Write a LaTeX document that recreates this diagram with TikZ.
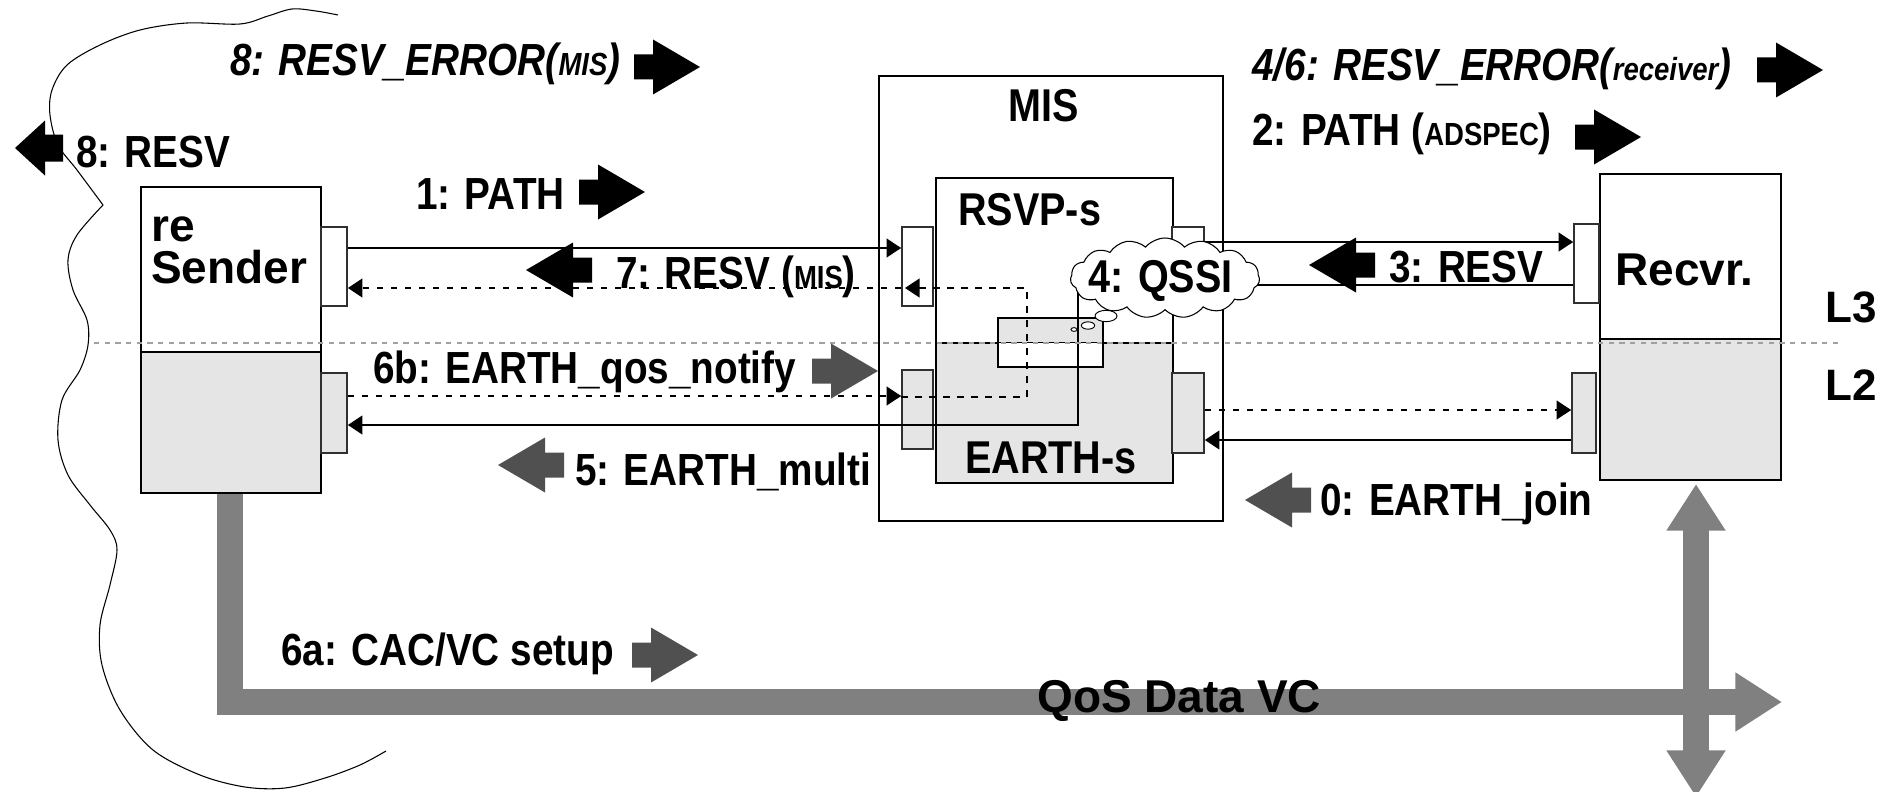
\documentclass[tikz,border=0pt]{standalone}
\usepackage{fontspec}
\setmainfont{Liberation Sans}
\newfontfamily\condfont[FakeStretch=0.86]{Liberation Sans}
\usetikzlibrary{arrows.meta,shapes.geometric,shapes.symbols}
\definecolor{lgrey}{HTML}{E5E5E5}
\definecolor{pipegrey}{HTML}{808080}
\definecolor{dgrey}{HTML}{505050}
\definecolor{portedge}{HTML}{303030}
\definecolor{layerline}{HTML}{A0A0A0}
\newcommand\sml[1]{{\fontsize{24}{28}\selectfont #1}}
\tikzset{
  box/.style={draw=black, line width=1.2pt, fill=white, inner sep=0pt},
  l2box/.style={box, fill=lgrey},
  port/.style={box, draw=portedge},
  l2port/.style={box, draw=portedge, fill=lgrey},
  conn/.style={line width=1.8pt},
  dotline/.style={line width=2pt, dash pattern=on 5pt off 5.5pt},
  layer/.style={draw=layerline, line width=0.8pt, dash pattern=on 4pt off 4pt},
  pipe/.style={draw=pipegrey, line width=20pt, line join=miter},
  lbl/.style={anchor=base west, inner sep=0pt, font=\condfont\bfseries\fontsize{33.75}{38}\selectfont},
  ilbl/.style={anchor=base west, inner sep=0pt, font=\condfont\bfseries\itshape\fontsize{33.75}{38}\selectfont},
  mlbl/.style={anchor=base west, inner sep=0pt, font=\condfont\bfseries\fontsize{34.5}{40}\selectfont},
  big/.style={anchor=base west, inner sep=0pt, font=\bfseries\fontsize{34.5}{40}\selectfont},
  layerlbl/.style={anchor=base west, inner sep=0pt, font=\bfseries\fontsize{33}{38}\selectfont},
  bubble/.style={ellipse, draw, fill=white, line width=0.7pt, inner sep=0pt},
  >={Triangle[length=11pt,width=14pt]},
  pics/blk/.style={code={
    \fill[#1] (-66,-12.5) -- (-47,-12.5) -- (-47,-27.5) -- (0,0) -- (-47,27.5)
      -- (-47,12.5) -- (-66,12.5) -- cycle;}},
  pics/blkshort/.style={code={
    \fill[#1] (-48,-13.5) -- (-30,-13.5) -- (-30,-27.5) -- (0,0) -- (-30,27.5)
      -- (-30,13.5) -- (-48,13.5) -- cycle;}},
}
\begin{document}
\begin{tikzpicture}[x=0.75pt,y=-0.75pt]
\useasboundingbox (0,0) rectangle (1892,792);

% sender-side domain outline
\draw[line width=0.8pt] plot[smooth, tension=0.55] coordinates {
  (338,15) (316,11) (292,9) (268,16) (240,24) (187,23) (140,30) (100,45)
  (67,65) (52,90) (50,115) (58,145) (77,170) (103,205)};
\draw[line width=0.8pt] plot[smooth, tension=0.55] coordinates {
  (103,205) (77,235) (68,260) (73,290) (87,320) (88,345) (80,370) (62,400)
  (58,440) (68,475) (90,505) (110,530) (117,550) (110,585) (100,625)
  (102,665) (120,710) (153,750) (200,775) (245,787) (285,788) (325,778)
  (360,765) (386,751)};

% boxes
\node[box, line width=1pt, minimum width=258pt, minimum height=333.75pt] (mis) at (1051,298.5) {};
\node[box, minimum width=177.75pt, minimum height=123.75pt] (rsvp) at (1054.5,260.5) {};
\node[l2box, minimum width=177.75pt, minimum height=105pt] (earth) at (1054.5,413) {};
\node[box, minimum width=78.75pt, minimum height=36.75pt,
  path picture={\fill[lgrey] (path picture bounding box.north west) rectangle (path picture bounding box.east);}]
  (qbox) at (1050.5,342.5) {};
\draw[line width=1.2pt] (qbox.west) -- (qbox.east);
\node[port, minimum width=23.25pt, minimum height=59.25pt] (mpl3) at (917.5,266.5) {};
\node[l2port, minimum width=23.25pt, minimum height=59.25pt] (mpl2) at (917.5,409.5) {};
\node[port, minimum width=24pt, minimum height=59.25pt] (mpr3) at (1188,266.5) {};
\node[l2port, minimum width=24pt, minimum height=60pt] (mpr2) at (1188,413) {};

\node[box, minimum width=135pt, minimum height=123.75pt] (sL3) at (231,269.5) {};
\node[l2box, minimum width=135pt, minimum height=105.75pt] (sL2) at (231,422.5) {};
\node[port, minimum width=19.5pt, minimum height=59.25pt] (sp3) at (334,266.5) {};
\node[l2port, minimum width=19.5pt, minimum height=60pt] (sp2) at (334,413) {};

\node[box, minimum width=135.75pt, minimum height=123.75pt] (rL3) at (1690.5,256.5) {};
\node[l2box, minimum width=135.75pt, minimum height=105.75pt] (rL2) at (1690.5,409.5) {};
\node[port, minimum width=18.75pt, minimum height=59.25pt] (rp3) at (1586.5,263.5) {};
\node[l2port, minimum width=18pt, minimum height=60pt] (rp2) at (1584,413) {};

% QoS data VC
\coordinate (vcbend) at (230,702);
\coordinate (vcend) at (1782,702);
\coordinate (vctop) at (1696,484);
\coordinate (vcbot) at (1696,797);
\draw[pipe, -{Triangle[length=35pt,width=42pt]}] (sL2.south -| vcbend) -- (vcbend) -- (vcend);
\draw[pipe, {Triangle[length=35pt,width=42pt]}-{Triangle[length=35pt,width=42pt]}] (vctop) -- (vcbot);

% signalling connectors
\coordinate (qin) at (1078,292);
\coordinate (djoin) at (1027,397);
\coordinate (m7tip) at (905,288);
\draw[conn,->] (sp3.east |- 0,248) -- (mpl3.west |- 0,248);
\draw[conn,->] (mpr3.east |- 0,242) -- (rp3.west |- 0,242);
\draw[conn] (rp3.west |- 0,285) -- (1200,285);
\draw[conn,->] (qin) |- (sp2.east |- 0,425);
\draw[dotline,->] (djoin) |- (m7tip);
\draw[dotline,->] (mpl3.west |- 0,288) -- (sp3.east |- 0,288);
\draw[dotline,->] (sp2.east |- 0,396) -- (mpl2.west |- 0,396);
\draw[dotline] (mpl2.west |- 0,397) -- (djoin);
\draw[dotline,->] (mpr2.east |- 0,410) -- (rp2.west |- 0,410);
\draw[conn,->] (rp2.west |- 0,440) -- (mpr2.east |- 0,440);

% layer boundary
\draw[layer] (94,343) -- (1842,343);

% QSSI thought cloud
\node[cloud, cloud puffs=15, cloud puff arc=100, cloud ignores aspect, draw, fill=white,
  line width=0.8pt, minimum width=142pt, minimum height=60pt, inner sep=0pt] (qssi) at (1165,278) {};
\node[mlbl] (tqssi) at (1088,292) {4: QSSI};
\node[bubble, minimum width=16.5pt, minimum height=8.5pt] (bub1) at (1106,316) {};
\node[bubble, minimum width=10pt, minimum height=5.5pt] (bub2) at (1088,325.5) {};
\node[bubble, minimum width=4.5pt, minimum height=2.8pt] (bub3) at (1074,329.5) {};

% message direction arrows
\pic at (700,67) {blk=black};
\pic[xscale=-1] at (15,148) {blkshort=black};
\pic at (645,192) {blk=black};
\pic at (1823,70) {blk=black};
\pic at (1641,137) {blk=black};
\pic[xscale=-1] at (526,270) {blk=black};
\pic[xscale=-1] at (1309,265) {blk=black};
\pic at (878,371) {blk=dgrey};
\pic[xscale=-1] at (498,465) {blk=dgrey};
\pic[xscale=-1] at (1245,500) {blk=dgrey};
\pic at (698,655) {blk=dgrey};

% labels
\node[ilbl] (t8err) at (230,75) {8: RESV\_ERROR(\sml{MIS})};
\node[lbl] (t8resv) at (76,167) {8: RESV};
\node[lbl] (tpath1) at (416,209) {1: PATH};
\node[ilbl] (t46err) at (1252,80) {4/6: RESV\_ERROR(\sml{receiver})};
\node[lbl] (tpath2) at (1252,146) {2: PATH (\sml{ADSPEC})};
\node[lbl] (tresv7) at (616,288) {7: RESV (\sml{MIS})};
\node[lbl] (tresv3) at (1389,282) {3: RESV};
\node[lbl] (t6b) at (373,383) {6b: EARTH\_qos\_notify};
\node[lbl] (t5) at (575,485) {5: EARTH\_multi};
\node[lbl] (t0) at (1320,515) {0: EARTH\_join};
\node[lbl] (t6a) at (281,665) {6a: CAC/VC setup};
\node[mlbl] (tmis) at (1008,122) {MIS};
\node[mlbl] (trsvp) at (958,225) {RSVP-s};
\node[mlbl] (tearth) at (965,473) {EARTH-s};
\node[big] (tre) at (151,241) {re};
\node[big] (tsender) at (151,283) {Sender};
\node[big] (trecvr) at (1615,285) {Recvr.};
\node[layerlbl] (tl3) at (1825,322) {L3};
\node[layerlbl] (tl2) at (1825,400) {L2};
\node[big] (tqos) at (1037,712) {QoS Data VC};
\end{tikzpicture}
\end{document}
